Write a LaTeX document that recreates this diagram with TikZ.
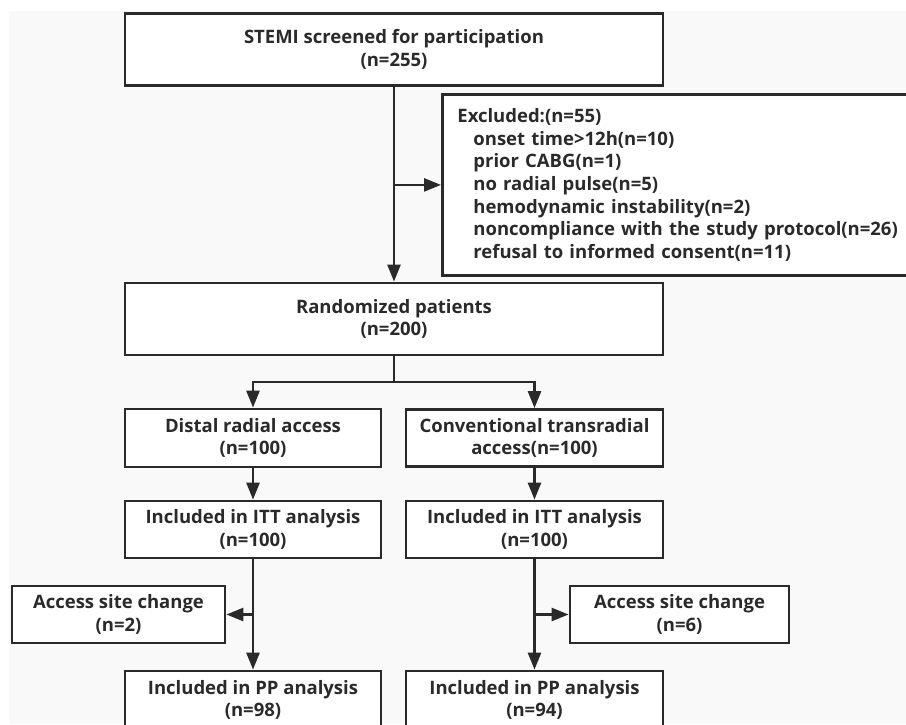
\documentclass[tikz,border=0pt]{standalone}
\usepackage{fontspec}
\setmainfont{Open Sans}
\usetikzlibrary{arrows.meta}
\definecolor{bg}{HTML}{F9F9F9}
\definecolor{ink}{HTML}{2A2A2A}
\begin{document}
\begin{tikzpicture}[x=1pt,y=-1pt,
  box/.style={draw=ink,line width=2.8pt,fill=white,align=center,inner sep=0pt,
    font=\fontsize{18.5}{22.7}\selectfont\bfseries,text=ink},
  conn/.style={draw=ink,line width=2.6pt,-{Triangle[length=17pt,width=13pt]}},
  line/.style={draw=ink,line width=2.6pt}]
\useasboundingbox (0,0) rectangle (906,724);
\fill[white] (0,0) rectangle (906,724);
\fill[bg] (9,11) rectangle (906,724);

\node[box,minimum width=538pt,minimum height=72pt] (top) at (394,49.5) {STEMI screened for participation\\(n=255)};
\node[box,anchor=north west,minimum width=480pt,minimum height=181pt,text width=450pt,align=left,inner xsep=15pt] (excl) at (441,93)
 {Excluded:(n=55)\\
  \hspace*{16pt}onset time>12h(n=10)\\
  \hspace*{16pt}prior CABG(n=1)\\
  \hspace*{16pt}no radial pulse(n=5)\\
  \hspace*{16pt}hemodynamic instability(n=2)\\
  \hspace*{16pt}noncompliance with the study protocol(n=26)\\
  \hspace*{16pt}refusal to informed consent(n=11)};
\node[box,minimum width=538pt,minimum height=72pt] (rand) at (394,319) {Randomized patients\\(n=200)};
\node[box,minimum width=256pt,minimum height=58pt] (dist) at (253,438) {Distal radial access\\(n=100)};
\node[box,minimum width=257pt,minimum height=57pt] (conv) at (534.5,438) {Conventional transradial\\access(n=100)};
\node[box,minimum width=256pt,minimum height=57pt] (itta) at (253,529.5) {Included in ITT analysis\\(n=100)};
\node[box,minimum width=257pt,minimum height=57pt] (ittb) at (534.5,529.5) {Included in ITT analysis\\(n=100)};
\node[box,minimum width=213pt,minimum height=57pt] (acca) at (118.5,614.5) {Access site change\\(n=2)};
\node[box,minimum width=219pt,minimum height=57pt] (accb) at (679.5,614.5) {Access site change\\(n=6)};
\node[box,minimum width=256pt,minimum height=58pt] (ppa) at (253,700) {Included in PP analysis\\(n=98)};
\node[box,minimum width=257pt,minimum height=58pt] (ppb) at (534.5,700) {Included in PP analysis\\(n=94)};

\coordinate (split) at (394,382);
\draw[conn] (top.south) -- (rand.north);
\draw[conn] (top.south |- excl.west) -- (excl.west);
\draw[line] (rand.south) -- (split);
\draw[conn] (split) -| (dist.north);
\draw[conn] (split) -| (conv.north);
\draw[conn] (dist.south) -- (itta.north);
\draw[conn] (conv.south) -- (ittb.north);
\draw[conn] (itta.south) -- (ppa.north);
\draw[conn] (ittb.south) -- (ppb.north);
\draw[conn] (itta.south |- acca.east) -- (acca.east);
\draw[conn] (ittb.south |- accb.west) -- (accb.west);
\end{tikzpicture}
\end{document}
